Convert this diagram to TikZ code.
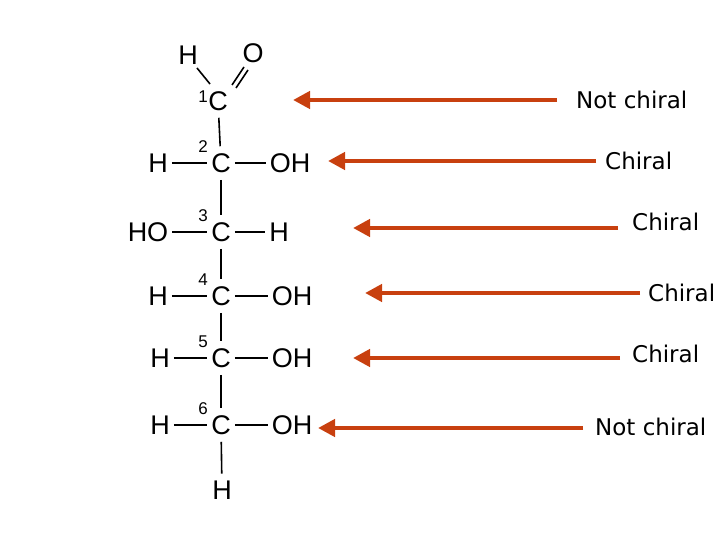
\documentclass[tikz,border=0pt]{standalone}
\usepackage{fontspec}
\setmainfont{Liberation Sans}
\newfontfamily\lbl{DejaVu Sans}
\usetikzlibrary{arrows.meta}
\definecolor{arr}{HTML}{C8400F}
\begin{document}
\begin{tikzpicture}[x=1pt,y=-1pt,
  atom/.style={font=\fontsize{27}{29}\selectfont, inner sep=4pt},
  num/.style={font=\fontsize{17}{18}\selectfont, inner sep=0pt},
  bond/.style={line width=1.6pt, black},
  vbond/.style={bond, shorten <=3pt, shorten >=3pt},
  lab/.style={font=\lbl\fontsize{23}{25}\selectfont, anchor=west, inner sep=0pt},
  pt/.style={line width=4.5pt, arr, -{Triangle[width=17pt,length=17pt]}}]
\useasboundingbox (0,0) rectangle (720,540);
\node[atom] (c1) at (218,101) {C};
\node[atom] (ht) at (188,55) {H};
\node[atom] (o) at (253,53) {O};
\node[num] at (203,97) {1};
\draw[bond] (197,68) -- (210,84);
\draw[bond] (232,85) -- (244,67);
\draw[bond] (236,88) -- (248,70);
\foreach \i/\y/\l/\lx/\r/\rx in {2/163/H/158/OH/290, 3/232/HO/148/H/279, 4/296/H/158/OH/292, 5/358/H/160/OH/292, 6/425/H/160/OH/292}{
  \node[atom] (c\i) at (221,\y) {C};
  \node[atom] (l\i) at (\lx,\y) {\l};
  \node[atom] (r\i) at (\rx,\y) {\r};
  \node[num] at (203,\y-16) {\i};
  \draw[bond] (l\i) -- (c\i);
  \draw[bond] (c\i) -- (r\i);
}
\node[atom] (hb) at (222,490) {H};
\draw[vbond] (c1) -- (c2);
\draw[vbond] (c2) -- (c3);
\draw[vbond] (c3) -- (c4);
\draw[vbond] (c4) -- (c5);
\draw[vbond] (c5) -- (c6);
\draw[vbond] (c6) -- (hb);
\node[lab] (t1) at (576,100) {Not chiral};
\node[lab] (t2) at (605,161) {Chiral};
\node[lab] (t3) at (632,222) {Chiral};
\node[lab] (t4) at (648,293) {Chiral};
\node[lab] (t5) at (632,354) {Chiral};
\node[lab] (t6) at (595,427) {Not chiral};
\coordinate (a1) at (557,100); \coordinate (b1) at (293,100);
\coordinate (a2) at (596,161); \coordinate (b2) at (328,161);
\coordinate (a3) at (618,228); \coordinate (b3) at (353,228);
\coordinate (a4) at (640,293); \coordinate (b4) at (365,293);
\coordinate (a5) at (620,358); \coordinate (b5) at (353,358);
\coordinate (a6) at (583,428); \coordinate (b6) at (318,428);
\foreach \k in {1,...,6}{\draw[pt] (a\k) -- (b\k);}
\end{tikzpicture}
\end{document}
